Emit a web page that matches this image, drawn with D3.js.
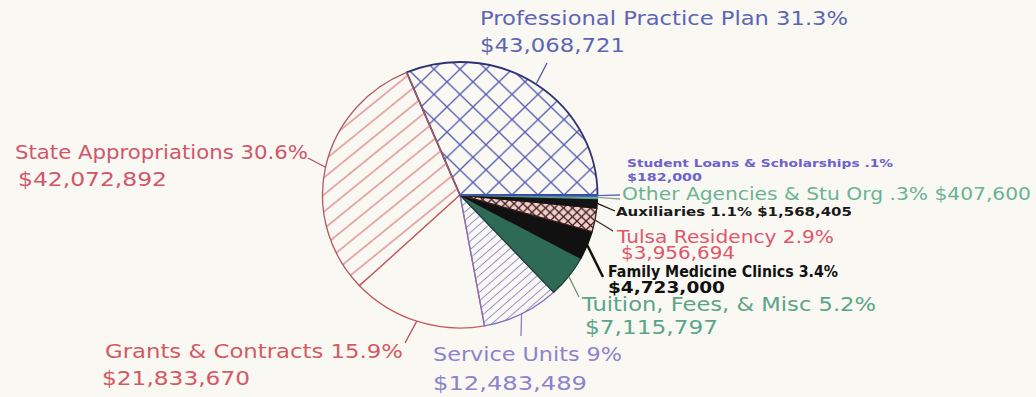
<!DOCTYPE html>
<html>
<head>
<meta charset="utf-8">
<script src="https://cdn.jsdelivr.net/npm/d3@7"></script>
<style>
  html, body { margin: 0; padding: 0; background: #faf8f3; }
  svg { display: block; }
  text { font-family: "DejaVu Sans", "Liberation Sans", sans-serif; }
</style>
</head>
<body>
<svg id="chart" width="1036" height="397"></svg>
<script>
// Revenue sources, in slice order (counter-clockwise from 3 o'clock)
const categories = [
  "Professional Practice Plan", "State Appropriations", "Grants & Contracts",
  "Service Units", "Tuition, Fees, & Misc", "Family Medicine Clinics",
  "Tulsa Residency", "Auxiliaries", "Other Agencies & Stu Org",
  "Student Loans & Scholarships"
];
const amounts = [43068721, 42072892, 21833670, 12483489, 7115797,
                 4723000, 3956694, 1568405, 407600, 182000];
const percentLabels = ["31.3%", "30.6%", "15.9%", "9%", "5.2%",
                       "3.4%", "2.9%", "1.1%", ".3%", ".1%"];

// Slice appearance
const sliceFill   = ["url(#hatch-ppp)", "url(#hatch-state)", "#faf8f3", "url(#hatch-service)",
                     "#2f6a56", "#111111", "url(#hatch-tulsa)", "#141414", "#6fb79a", "#4a5fc8"];
const sliceStroke = ["#2e3274", "#b15a5e", "#c65a5c", "#7d76bd",
                     "#1d3f33", "#111111", "#3a1f1f", "#141414", "#5e9f86", "#3a4fb8"];
const textColor   = ["#5c66b4", "#d0566a", "#d25a64", "#8a84cc", "#5aa587",
                     "#111111", "#e0566a", "#1a1a1a", "#68b392", "#6d62cc"];
const leaderColor = ["#4e56a2", "#b9505a", "#b04c52", "#8882c2", "#6f8f84",
                     "#111111", "#402828", "#1a1a1a", "#8aa79a", "#5a68b8"];

// Label layout: anchor of first line, line gap, font, fitted widths, leader end
const labelLayout = [
  { x: 480, y: 25,  gap: 27, size: 20, weight: 400, widths: [368, 145], end: [547, 63], oneLine: false },
  { x: 15,  y: 159, gap: 27, size: 20, weight: 400, widths: [293, 149], end: [308, 158], oneLine: false, x2: 18 },
  { x: 105, y: 358, gap: 27, size: 20, weight: 400, widths: [298, 148], end: [405, 343], oneLine: false, x2: 102 },
  { x: 433, y: 361, gap: 29, size: 20, weight: 400, widths: [189, 154], end: [521, 336], oneLine: false },
  { x: 582, y: 311, gap: 23, size: 19, weight: 400, widths: [294, 133], end: [579, 297], oneLine: false, x2: 585 },
  { x: 608, y: 277, gap: 16, size: 15, weight: 700, widths: [230, 117], end: [603, 277], oneLine: false },
  { x: 617, y: 243, gap: 16, size: 17, weight: 400, widths: [217, 114], end: [613, 231], oneLine: false, x2: 621 },
  { x: 616, y: 216, gap: 0,  size: 13, weight: 700, widths: [236],      end: [615, 211], oneLine: true },
  { x: 622, y: 200, gap: 0,  size: 18, weight: 400, widths: [409],      end: [620, 199], oneLine: true },
  { x: 627, y: 167, gap: 14, size: 11, weight: 700, widths: [266, 75],  end: [620, 195], oneLine: false }
];

const fmtMoney = d3.format("$,");

const svg = d3.select("#chart");
const W = 1036, H = 397;
svg.append("rect").attr("width", W).attr("height", H).attr("fill", "#faf8f3");

// Hatch patterns
const defs = svg.append("defs");

function crossHatch(id, size, color, width, bg) {
  const p = defs.append("pattern").attr("id", id)
    .attr("patternUnits", "userSpaceOnUse")
    .attr("width", size).attr("height", size);
  if (bg) p.append("rect").attr("width", size).attr("height", size).attr("fill", bg);
  p.append("path")
    .attr("d", `M0,0L${size},${size}M${size},0L0,${size}`)
    .attr("stroke", color).attr("stroke-width", width).attr("fill", "none");
}
function lineHatch(id, spacing, angle, color, width) {
  const p = defs.append("pattern").attr("id", id)
    .attr("patternUnits", "userSpaceOnUse")
    .attr("width", 10).attr("height", spacing)
    .attr("patternTransform", `rotate(${angle})`);
  p.append("line")
    .attr("x1", 0).attr("x2", 10)
    .attr("y1", spacing / 2).attr("y2", spacing / 2)
    .attr("stroke", color).attr("stroke-width", width);
}
crossHatch("hatch-ppp", 26, "#5860b4", 1.4, null);
lineHatch("hatch-state", 13.5, -40, "#d9777a", 1.2);
lineHatch("hatch-service", 6.5, -42, "#948ed2", 1.0);
crossHatch("hatch-tulsa", 9, "#3c2222", 1.3, "#f3cdca");

// Pie geometry (slightly wider than tall)
const cx = 460, cy = 195, rx = 137.5, ry = 133;

const pie = d3.pie()
  .sort(null)
  .value(d => d)
  .startAngle(Math.PI / 2)
  .endAngle(Math.PI / 2 - 2 * Math.PI);

const arcs = pie(amounts);
const arc = d3.arc().innerRadius(0).outerRadius(rx);

const pieG = svg.append("g")
  .attr("transform", `translate(${cx},${cy}) scale(1,${ry / rx})`);

pieG.selectAll("path.slice")
  .data(arcs)
  .join("path")
  .attr("class", "slice")
  .attr("d", arc)
  .attr("fill", (d, i) => sliceFill[i])
  .attr("stroke", (d, i) => sliceStroke[i])
  .attr("stroke-width", (d, i) => i === 0 ? 1.8 : 1.3)
  .attr("stroke-linejoin", "round")
  .attr("vector-effect", "non-scaling-stroke");

// Leader lines from the rim at each slice's mid-angle
function rimPoint(d) {
  const m = (d.startAngle + d.endAngle) / 2;
  return [cx + rx * Math.sin(m), cy - ry * Math.cos(m)];
}

svg.append("g").selectAll("line")
  .data(arcs)
  .join("line")
  .attr("x1", d => rimPoint(d)[0])
  .attr("y1", d => rimPoint(d)[1])
  .attr("x2", (d, i) => labelLayout[i].end[0])
  .attr("y2", (d, i) => labelLayout[i].end[1])
  .attr("stroke", (d, i) => leaderColor[i])
  .attr("stroke-width", (d, i) => i === 5 ? 2.5 : 1.3);

// Labels
const labelG = svg.append("g");
arcs.forEach((d, i) => {
  const L = labelLayout[i];
  const lines = L.oneLine
    ? [`${categories[i]} ${percentLabels[i]} ${fmtMoney(amounts[i])}`]
    : [`${categories[i]} ${percentLabels[i]}`, fmtMoney(amounts[i])];
  lines.forEach((txt, j) => {
    labelG.append("text")
      .attr("x", j === 0 ? L.x : (L.x2 !== undefined ? L.x2 : L.x))
      .attr("y", L.y + j * L.gap)
      .attr("font-size", L.size)
      .attr("font-weight", L.weight)
      .attr("fill", textColor[i])
      .attr("textLength", L.widths[j])
      .attr("lengthAdjust", "spacingAndGlyphs")
      .text(txt);
  });
});
</script>
</body>
</html>
